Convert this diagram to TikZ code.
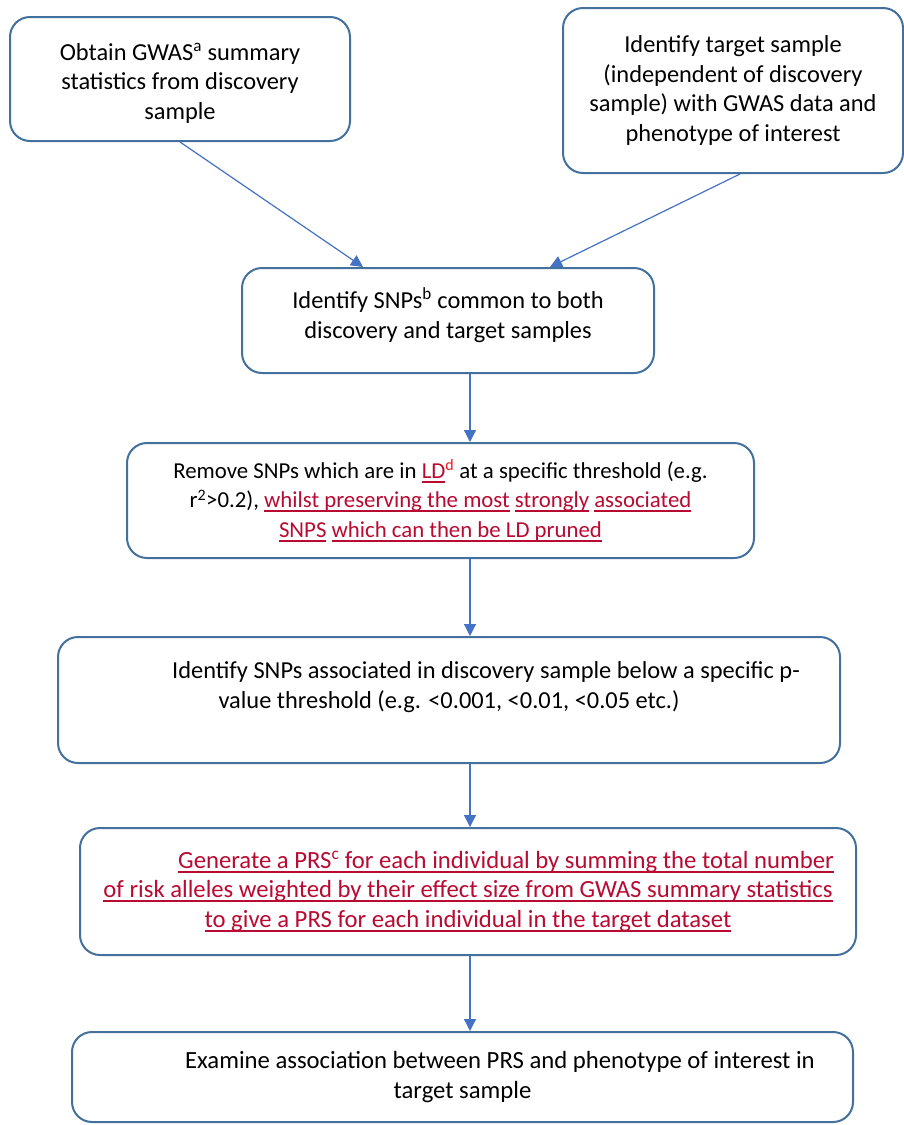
\documentclass[tikz,border=0pt]{standalone}
\usepackage{fontspec}
\setmainfont{Carlito}
\usetikzlibrary{arrows.meta}
\definecolor{boxblue}{RGB}{65,113,156}
\definecolor{arrowblue}{RGB}{68,114,196}
\definecolor{prsred}{RGB}{185,10,50}
\definecolor{supred}{RGB}{240,20,30}
\newcommand{\redul}[1]{{\color{prsred}\setbox0\hbox{#1}\rlap{\rule[-4.5pt]{\wd0}{2pt}}\box0}}
\tikzset{
  stage/.style={draw=boxblue, line width=2pt, rounded corners=20pt, align=center, inner sep=0pt},
  flow/.style={draw=arrowblue, line width=1.2pt, -{Triangle[length=12pt,width=12pt]}}
}
\begin{document}
\begin{tikzpicture}[x=1pt,y=-1pt,font=\fontsize{24.4}{29.5}\selectfont]
  \path[use as bounding box, fill=white] (0,0) rectangle (904,1125);
  \coordinate (spine) at (470,0);
  \node[stage, minimum width=340, minimum height=124] (gwas) at (180,79)
    {\rule{0pt}{25pt}Obtain GWAS\textsuperscript{a} summary\\statistics from discovery\\sample};
  \node[stage, minimum width=340, minimum height=165] (target) at (733,90.5)
    {Identify target sample\\(independent of discovery\\sample) with GWAS data and\\phenotype of interest};
  \node[stage, minimum width=412, minimum height=105] (common) at (448,320.5)
    {Identify SNPs\textsuperscript{b} common to both\\discovery and target samples\\[-15pt]\mbox{}};
  \node[stage, minimum width=627, minimum height=115, font=\fontsize{22.8}{29.5}\selectfont] (ldprune) at (440.5,500.5)
    {Remove SNPs which are in \redul{LD}{\color{supred}\textsuperscript{d}} at a specific threshold (e.g.\\
     r\textsuperscript{2}>0.2), \redul{whilst preserving the most} \redul{strongly} \redul{associated}\\
     \redul{SNPS} \redul{which can then be LD pruned}};
  \node[stage, minimum width=782, minimum height=126] (pthresh) at (449,700)
    {\hspace*{74pt}Identify SNPs associated in discovery sample below a specific p-\\value threshold (e.g. <0.001, <0.01, <0.05 etc.)\\\mbox{}};
  \node[stage, minimum width=776, minimum height=127, font=\fontsize{24.7}{29.5}\selectfont] (score) at (468,891.5)
    {\hspace*{76pt}\redul{Generate a PRS\textsuperscript{c} for each individual by summing the total number}\\
     \redul{of risk alleles weighted by their effect size from GWAS summary statistics}\\
     \redul{to give a PRS for each individual in the target dataset}};
  \node[stage, minimum width=781, minimum height=90, font=\fontsize{24.7}{29.5}\selectfont] (assoc) at (462.5,1077)
    {\hspace*{75pt}Examine association between PRS and phenotype of interest in\\target sample};
  \draw[flow] (gwas.south) -- ([xshift=-85pt]common.north);
  \draw[flow] ([xshift=7pt]target.south) -- ([xshift=102pt]common.north);
  \foreach \a/\b in {common/ldprune, ldprune/pthresh, pthresh/score, score/assoc}
    \draw[flow] (\a.south -| spine) -- (\b.north -| spine);
\end{tikzpicture}
\end{document}
